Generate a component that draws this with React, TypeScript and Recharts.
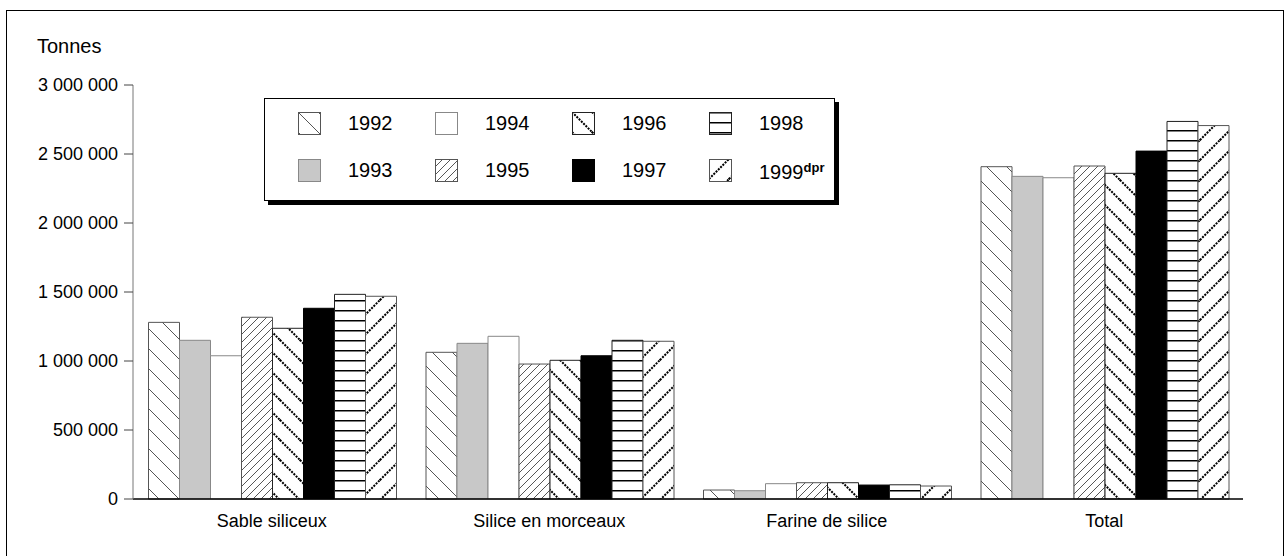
import React from "react"
import { BarChart, Bar, XAxis, YAxis, Legend } from "recharts"

const categories = ["Sable siliceux", "Silice en morceaux", "Farine de silice", "Total"]
const years = ["1992", "1993", "1994", "1995", "1996", "1997", "1998", "1999"]

const v1992 = [1280000, 1063000, 65000, 2408000]
const v1993 = [1150000, 1128000, 60000, 2338000]
const v1994 = [1038000, 1179000, 111000, 2328000]
const v1995 = [1317000, 978000, 118000, 2413000]
const v1996 = [1237000, 1005000, 118000, 2360000]
const v1997 = [1382000, 1038000, 101000, 2521000]
const v1998 = [1483000, 1150000, 103000, 2736000]
const v1999 = [1469000, 1143000, 94000, 2706000]

const yTicks = [0, 500000, 1000000, 1500000, 2000000, 2500000, 3000000]

const seriesValues = [v1992, v1993, v1994, v1995, v1996, v1997, v1998, v1999]

const data = categories.map((name, i) => {
  const row: Record<string, string | number> = { name }
  years.forEach((y, j) => {
    row[y] = seriesValues[j][i]
  })
  return row
})

const fills: Record<string, string> = {
  "1992": "url(#p1992)",
  "1993": "#c8c8c8",
  "1994": "#ffffff",
  "1995": "url(#p1995)",
  "1996": "url(#p1996)",
  "1997": "#000000",
  "1998": "url(#p1998)",
  "1999": "url(#p1999)",
}

const strokes: Record<string, string> = {
  "1992": "#555",
  "1993": "#888",
  "1994": "#888",
  "1995": "#555",
  "1996": "#222",
  "1997": "#000",
  "1998": "#222",
  "1999": "#555",
}

const fmt = (v: number) => String(v).replace(/\B(?=(\d{3})+(?!\d))/g, " ")

const font = "'Liberation Sans', Arial, Helvetica, sans-serif"

function Patterns() {
  return (
    <defs>
      <pattern id="p1992" patternUnits="userSpaceOnUse" width="20" height="20">
        <rect width="20" height="20" fill="#fff" />
        <path d="M0,0 L20,20 M-5,15 L5,25 M15,-5 L25,5" stroke="#555" strokeWidth="1" />
      </pattern>
      <pattern id="p1995" patternUnits="userSpaceOnUse" width="8" height="8">
        <rect width="8" height="8" fill="#fff" />
        <path d="M0,8 L8,0 M-2,2 L2,-2 M6,10 L10,6" stroke="#444" strokeWidth="0.9" />
      </pattern>
      <pattern id="p1996" patternUnits="userSpaceOnUse" width="20" height="20">
        <rect width="20" height="20" fill="#fff" />
        <path d="M0,0 L20,20 M-5,15 L5,25 M15,-5 L25,5" stroke="#000" strokeWidth="2" strokeDasharray="2 1.2" />
      </pattern>
      <pattern id="p1998" patternUnits="userSpaceOnUse" width="10" height="10">
        <rect width="10" height="10" fill="#fff" />
        <path d="M0,0.75 L10,0.75" stroke="#000" strokeWidth="1.5" />
      </pattern>
      <pattern id="p1999" patternUnits="userSpaceOnUse" width="20" height="20">
        <rect width="20" height="20" fill="#fff" />
        <path d="M0,20 L20,0 M-5,5 L5,-5 M15,25 L25,15" stroke="#000" strokeWidth="2" strokeDasharray="2 1.2" />
      </pattern>
    </defs>
  )
}

function LegendBox(props: any) {
  const payload = props.payload || []
  return (
    <div
      style={{
        position: "relative",
        width: 571,
        height: 103,
        boxSizing: "border-box",
        border: "1px solid #000",
        background: "#fff",
        boxShadow: "4px 4px 0 #000",
        fontFamily: font,
      }}
    >
      {payload.map((entry: any, i: number) => {
        const col = Math.floor(i / 2)
        const row = i % 2
        const key = String(entry.value)
        return (
          <div
            key={key}
            style={{ position: "absolute", left: 33 + col * 137, top: 13 + row * 47, height: 22, display: "flex", alignItems: "center" }}
          >
            <svg width={23} height={23} style={{ display: "block" }}>
              <rect x={0.5} y={0.5} width={22} height={22} fill={fills[key]} stroke={strokes[key]} />
            </svg>
            <span style={{ marginLeft: 27, fontSize: 20, color: "#000", lineHeight: "22px", whiteSpace: "nowrap" }}>
              {key}
              {key === "1999" ? <sup style={{ fontSize: 13, fontWeight: "bold", verticalAlign: "7px" }}>dpr</sup> : null}
            </span>
          </div>
        )
      })}
    </div>
  )
}

export default function App() {
  return (
    <div style={{ position: "fixed", left: 0, top: 0, width: 1284, height: 556, overflow: "hidden", background: "#fff", fontFamily: font }}>
      <div
        style={{
          position: "absolute",
          left: 6,
          top: 10,
          width: 1278,
          height: 600,
          boxSizing: "border-box",
          border: "1px solid #000",
        }}
      />
      <div style={{ position: "absolute", left: 37, top: 35, fontSize: 20, color: "#000" }}>Tonnes</div>
      <div style={{ position: "absolute", left: 0, top: 0 }}>
        <BarChart
          width={1284}
          height={556}
          data={data}
          margin={{ top: 85, right: 41, bottom: 27, left: 0 }}
          barGap={0}
          barCategoryGap={15.5}
        >
          <Patterns />
          <XAxis
            dataKey="name"
            height={30}
            tickLine={false}
            axisLine={{ stroke: "#000", strokeWidth: 1.5 }}
            tick={{ fill: "#000", fontSize: 18, fontFamily: font }}
            tickMargin={9}
            interval={0}
          />
          <YAxis
            width={133}
            domain={[0, 3000000]}
            ticks={yTicks}
            tickFormatter={fmt}
            tickSize={9}
            tickMargin={6}
            axisLine={{ stroke: "#777" }}
            tickLine={{ stroke: "#444" }}
            tick={{ fill: "#000", fontSize: 18, fontFamily: font }}
            interval={0}
          />
          <Legend
            layout="horizontal"
            verticalAlign="middle"
            align="center"
            content={<LegendBox />}
            wrapperStyle={{ position: "absolute", left: 264, top: 98, width: 575, height: 107, bottom: "auto" }}
          />
          {years.map((y) => (
            <Bar key={y} dataKey={y} name={y} fill={fills[y]} stroke={strokes[y]} strokeWidth={1} isAnimationActive={false} />
          ))}
        </BarChart>
      </div>
    </div>
  )
}
